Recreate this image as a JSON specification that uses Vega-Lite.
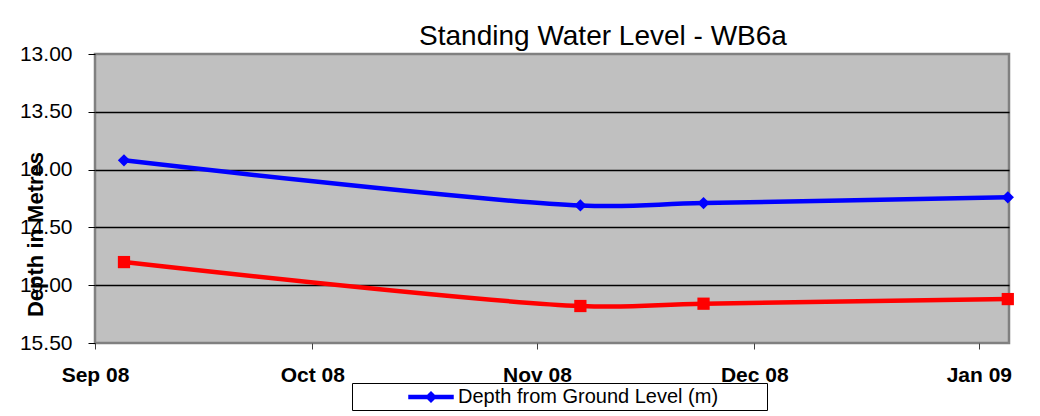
{
  "$schema": "https://vega.github.io/schema/vega-lite/v6.json",
  "width": 914,
  "height": 289,
  "autosize": {"type": "none"},
  "padding": {"left": 95, "top": 54, "right": 31, "bottom": 73},
  "background": "white",
  "config": {
    "font": "Liberation Sans",
    "view": {"fill": "#C0C0C0", "stroke": "#808080", "strokeWidth": 2.5}
  },
  "title": {
    "text": "Standing Water Level - WB6a",
    "fontSize": 28,
    "fontWeight": "normal",
    "font": "Liberation Sans",
    "color": "black",
    "anchor": "middle",
    "dx": 51,
    "offset": -8
  },
  "data": {
    "values": [
      {"date": "2008-09-05T00:00:00", "series": "Depth from Ground Level (m)", "depth": 13.92},
      {"date": "2008-11-07T00:00:00", "series": "Depth from Ground Level (m)", "depth": 14.31},
      {"date": "2008-11-24T00:00:00", "series": "Depth from Ground Level (m)", "depth": 14.29},
      {"date": "2009-01-05T00:00:00", "series": "Depth from Ground Level (m)", "depth": 14.24},
      {"date": "2008-09-05T00:00:00", "series": "Series 2", "depth": 14.80},
      {"date": "2008-11-07T00:00:00", "series": "Series 2", "depth": 15.18},
      {"date": "2008-11-24T00:00:00", "series": "Series 2", "depth": 15.16},
      {"date": "2009-01-05T00:00:00", "series": "Series 2", "depth": 15.12}
    ]
  },
  "encoding": {
    "x": {
      "field": "date",
      "type": "temporal",
      "scale": {
        "domain": [
          {"year": 2008, "month": 9, "date": 1},
          {"year": 2009, "month": 1, "date": 5, "hours": 4}
        ]
      },
      "axis": {
        "title": null,
        "values": [
          {"year": 2008, "month": 9, "date": 1},
          {"year": 2008, "month": 10, "date": 1},
          {"year": 2008, "month": 11, "date": 1},
          {"year": 2008, "month": 12, "date": 1},
          {"year": 2009, "month": 1, "date": 1}
        ],
        "format": "%b %y",
        "labelFont": "Liberation Sans",
        "labelFontSize": 21,
        "labelFontWeight": "bold",
        "labelColor": "black",
        "labelPadding": 15,
        "labelFlush": false,
        "labelOverlap": false,
        "tickSize": 6,
        "tickColor": "#404040",
        "domain": false,
        "grid": false
      }
    },
    "y": {
      "field": "depth",
      "type": "quantitative",
      "scale": {"domain": [13, 15.5], "reverse": true, "nice": false, "zero": false},
      "axis": {
        "title": "Depth in Metres",
        "values": [13, 13.5, 14, 14.5, 15, 15.5],
        "format": ".2f",
        "labelFont": "Liberation Sans",
        "labelFontSize": 21,
        "labelColor": "black",
        "labelPadding": 16,
        "labelFlush": false,
        "labelOverlap": false,
        "tickSize": 7,
        "tickColor": "black",
        "tickWidth": 1,
        "domain": false,
        "grid": true,
        "gridColor": {"condition": {"test": "datum.value == 13 || datum.value == 15.5", "value": "transparent"}, "value": "black"},
        "gridWidth": 1.5,
        "titleFont": "Liberation Sans",
        "titleFontSize": 22,
        "titleFontWeight": "bold",
        "titleColor": "black",
        "titleAngle": -90,
        "titleAlign": "center",
        "titleBaseline": "alphabetic",
        "titleX": -53,
        "titleY": 180
      }
    },
    "color": {
      "field": "series",
      "type": "nominal",
      "scale": {"domain": ["Depth from Ground Level (m)", "Series 2"], "range": ["#0000FF", "#FF0000"]},
      "legend": {
        "values": ["Depth from Ground Level (m)"],
        "orient": "none",
        "legendX": 257,
        "legendY": 329,
        "title": null,
        "strokeColor": "black",
        "fillColor": "white",
        "padding": 3,
        "labelFont": "Liberation Sans",
        "labelFontSize": 20,
        "labelColor": "black",
        "labelLimit": 500,
        "symbolOffset": 65,
        "labelOffset": 16,
        "symbolType": "M-2.2,-0.15L2.2,-0.15L2.2,0.15L-2.2,0.15Z M-0.5,0L0,-0.5L0.5,0L0,0.5Z",
        "symbolSize": 400,
        "labelExpr": "datum.label + '\u2800\u2800\u2800'",
        "encode": {
          "symbols": {
            "update": {
              "shape": {"value": "M-2.2,-0.15L2.2,-0.15L2.2,0.15L-2.2,0.15Z M-0.5,0L0,-0.5L0.5,0L0,0.5Z"},
              "size": {"value": 400},
              "fill": {"value": "#0000FF"},
              "stroke": {"value": "transparent"},
              "opacity": {"value": 1}
            }
          }
        }
      }
    }
  },
  "layer": [
    {"mark": {"type": "line", "interpolate": "catmull-rom", "strokeWidth": 4.5}},
    {
      "transform": [{"filter": "datum.series == 'Depth from Ground Level (m)'"}],
      "mark": {"type": "point", "shape": "diamond", "filled": true, "opacity": 1, "size": 150}
    },
    {
      "transform": [{"filter": "datum.series == 'Series 2'"}],
      "mark": {"type": "point", "shape": "square", "filled": true, "opacity": 1, "size": 150}
    }
  ]
}
